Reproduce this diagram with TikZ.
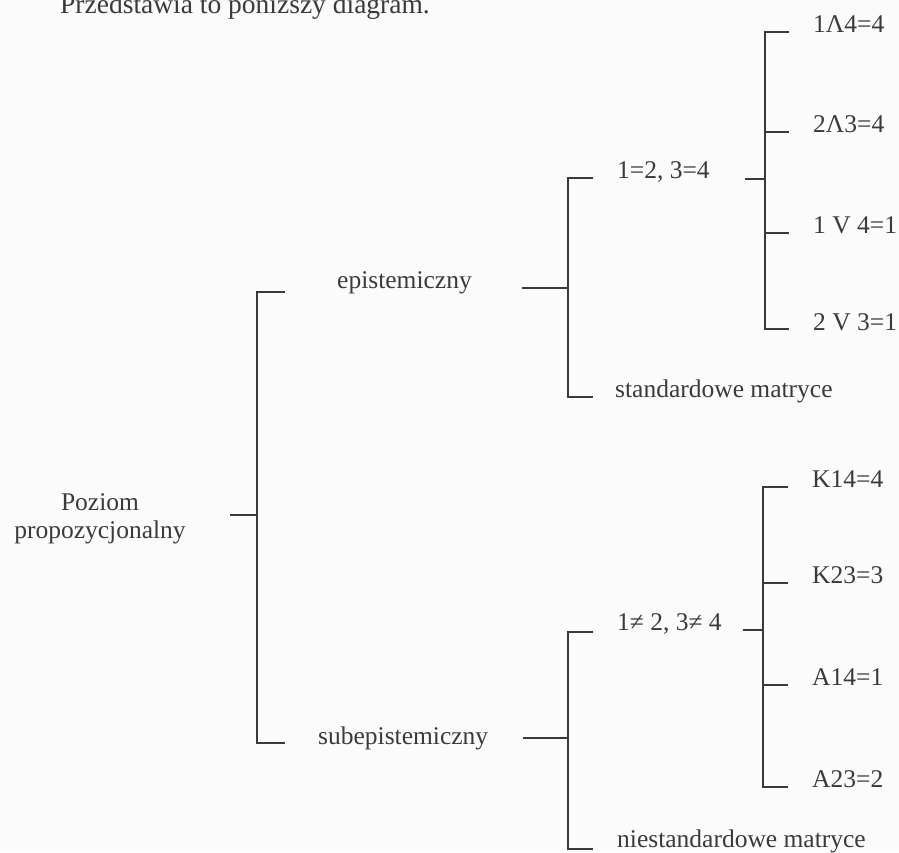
\documentclass[tikz,border=0pt]{standalone}
\usepackage{fontspec}
\setmainfont{Liberation Serif}
\definecolor{ink}{HTML}{3A3A3A}
\definecolor{paper}{HTML}{FBFBFB}
\begin{document}
\begin{tikzpicture}[x=1pt,y=-1pt,
  lbl/.style={anchor=base west, inner sep=0pt, text=ink, font=\fontsize{25.5}{30}\selectfont},
  rootlbl/.style={anchor=base, inner sep=0pt, text=ink, font=\fontsize{25.5}{30}\selectfont},
  conn/.style={draw=ink, line width=1.8pt}]
\fill[paper] (0,0) rectangle (899,852);
\useasboundingbox (0,0) rectangle (899,852);
\begin{scope}
\clip (0,0) rectangle (899,852);
\node[lbl, font=\fontsize{27.5}{32}\selectfont] (title) at (60,13) {Przedstawia to poniższy diagram.};

% root
\node[rootlbl] (rootA) at (100,510) {Poziom};
\node[rootlbl] (rootB) at (100,538) {propozycjonalny};
\coordinate (rin) at (230,515);
\coordinate (rmid) at (257,515);
\coordinate (rtop) at (257,292);
\coordinate (rbot) at (257,743);
\coordinate (rtopend) at (285,292);
\coordinate (rbotend) at (285,743);
\draw[conn] (rtopend) -- (rtop) -- (rbot) -- (rbotend);
\draw[conn] (rin) -- (rmid);

\node[lbl] (epi) at (337,288) {epistemiczny};
\node[lbl] (sub) at (318,744) {subepistemiczny};

% epistemic bracket
\coordinate (ein) at (522,288);
\coordinate (emid) at (568,288);
\coordinate (etop) at (568,178);
\coordinate (ebot) at (568,397);
\coordinate (etopend) at (593,178);
\coordinate (ebotend) at (593,397);
\draw[conn] (etopend) -- (etop) -- (ebot) -- (ebotend);
\draw[conn] (ein) -- (emid);
\node[lbl] (eq) at (617,178) {1=2, 3=4};
\node[lbl] (std) at (615,397) {standardowe matryce};

% first right bracket
\coordinate (qin) at (745,179);
\coordinate (qmid) at (765,179);
\coordinate (q1) at (765,32);
\coordinate (q2) at (765,132);
\coordinate (q3) at (765,233);
\coordinate (q4) at (765,329);
\coordinate (q1e) at (789,32);
\coordinate (q2e) at (789,132);
\coordinate (q3e) at (789,233);
\coordinate (q4e) at (789,329);
\draw[conn] (q1e) -- (q1) -- (q4) -- (q4e);
\draw[conn] (q2) -- (q2e);
\draw[conn] (q3) -- (q3e);
\draw[conn] (qin) -- (qmid);
\node[lbl] (la) at (813,32) {1Λ4=4};
\node[lbl] (lb) at (813,132) {2Λ3=4};
\node[lbl] (lc) at (813,233) {1 V 4=1};
\node[lbl] (ld) at (813,330) {2 V 3=1};

% subepistemic bracket
\coordinate (sin) at (523,738);
\coordinate (smid) at (568,738);
\coordinate (stop) at (568,632);
\coordinate (sbot) at (568,849);
\coordinate (stopend) at (593,632);
\coordinate (sbotend) at (593,849);
\draw[conn] (stopend) -- (stop) -- (sbot) -- (sbotend);
\draw[conn] (sin) -- (smid);
\node[lbl] (neq) at (617,630) {1≠ 2, 3≠ 4};
\node[lbl] (nstd) at (617,847) {niestandardowe matryce};

% second right bracket
\coordinate (kin) at (743,630);
\coordinate (kmid) at (763,630);
\coordinate (k1) at (763,487);
\coordinate (k2) at (763,583);
\coordinate (k3) at (763,685);
\coordinate (k4) at (763,787);
\coordinate (k1e) at (788,487);
\coordinate (k2e) at (788,583);
\coordinate (k3e) at (788,685);
\coordinate (k4e) at (788,787);
\draw[conn] (k1e) -- (k1) -- (k4) -- (k4e);
\draw[conn] (k2) -- (k2e);
\draw[conn] (k3) -- (k3e);
\draw[conn] (kin) -- (kmid);
\node[lbl] (ka) at (812,487) {K14=4};
\node[lbl] (kb) at (812,583) {K23=3};
\node[lbl] (kc) at (812,685) {A14=1};
\node[lbl] (kd) at (812,787) {A23=2};
\end{scope}
\end{tikzpicture}
\end{document}
